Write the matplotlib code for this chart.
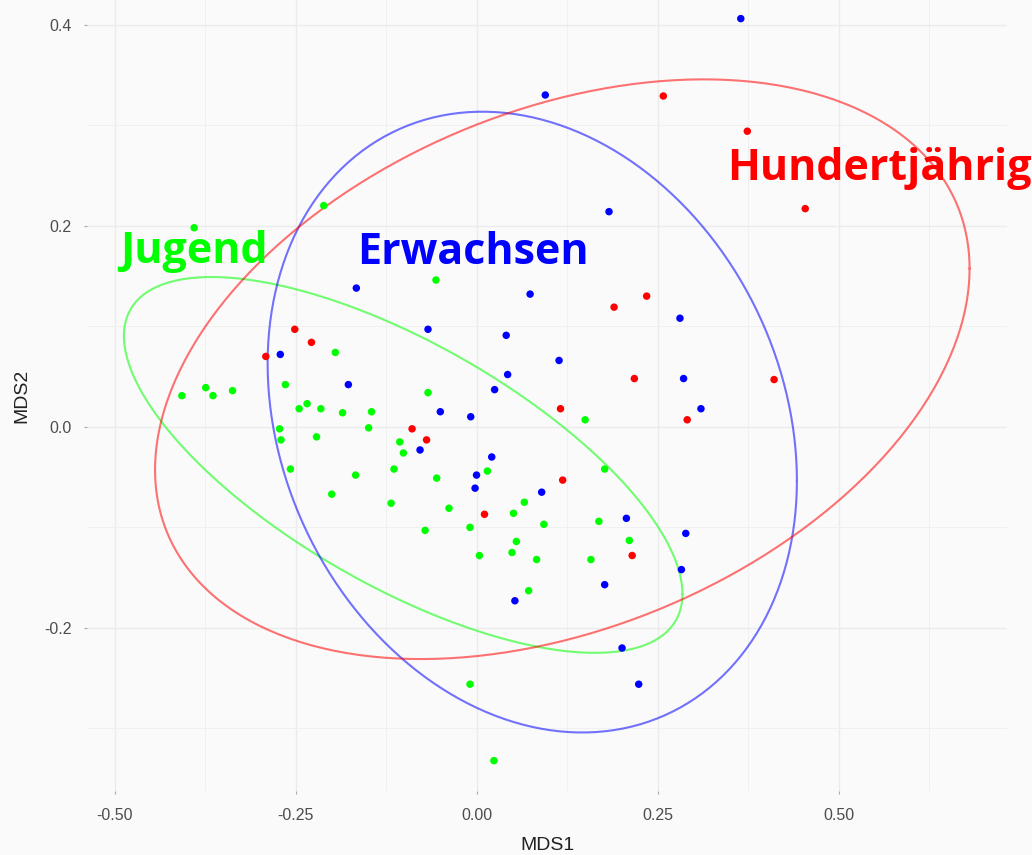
import numpy as np
import matplotlib
matplotlib.use("Agg")
import matplotlib.pyplot as plt

# ---------------- data ----------------
jugend_x = [-0.211, -0.390, -0.195, -0.407, -0.374, -0.364, -0.337, -0.264, -0.245, -0.234,
            -0.215, -0.185, -0.272, -0.270, -0.221, -0.257, -0.167, -0.200, -0.067, -0.145,
            -0.149, -0.106, -0.101, 0.015, -0.055, -0.114, -0.038, 0.066, 0.051, -0.071,
            -0.009, 0.093, 0.169, 0.211, 0.055, 0.004, 0.049, 0.083, 0.158, 0.072,
            -0.009, 0.024, 0.150, 0.177, -0.056, -0.118]
jugend_y = [0.220, 0.198, 0.074, 0.031, 0.039, 0.031, 0.036, 0.042, 0.018, 0.023,
            0.018, 0.014, -0.002, -0.013, -0.010, -0.042, -0.048, -0.067, 0.034, 0.015,
            -0.001, -0.015, -0.026, -0.044, -0.051, -0.042, -0.081, -0.075, -0.086, -0.103,
            -0.100, -0.097, -0.094, -0.113, -0.114, -0.128, -0.125, -0.132, -0.132, -0.163,
            -0.256, -0.332, 0.007, -0.042, 0.146, -0.076]

erw_x = [0.365, 0.095, 0.183, -0.166, 0.074, 0.281, -0.067, 0.041, -0.271, 0.114,
         0.043, 0.286, -0.177, 0.025, 0.310, -0.050, -0.008, -0.078, 0.021, 0.000,
         -0.002, 0.090, 0.207, 0.289, 0.283, 0.177, 0.053, 0.201, 0.224]
erw_y = [0.406, 0.330, 0.214, 0.138, 0.132, 0.108, 0.097, 0.091, 0.072, 0.066,
         0.052, 0.048, 0.042, 0.037, 0.018, 0.015, 0.010, -0.023, -0.030, -0.048,
         -0.061, -0.065, -0.091, -0.106, -0.142, -0.157, -0.173, -0.220, -0.256]

hund_x = [0.258, 0.374, 0.454, 0.235, 0.190, -0.251, -0.228, -0.291, 0.218, 0.411,
          0.116, 0.291, -0.089, -0.069, 0.119, 0.011, 0.215]
hund_y = [0.329, 0.294, 0.217, 0.130, 0.119, 0.097, 0.084, 0.070, 0.048, 0.047,
          0.018, 0.007, -0.002, -0.013, -0.053, -0.087, -0.128]

groups = ["Jugend", "Erwachsen", "Hundertjährig"]
colors = ["#00FF00", "#0000FF", "#FF0000"]

# ellipse parameters per group (centre and shape matrix)
ell_cx = [-0.1013, 0.0770, 0.1185]
ell_cy = [-0.0379, 0.0047, 0.0573]
ell_sxx = [0.1488, 0.1336, 0.3164]
ell_syy = [0.03493, 0.0953, 0.0831]
ell_sxy = [-0.0495, -0.0213, 0.0563]

# group label positions
label_x = [-0.390, -0.005, 0.556]
label_y = [0.163, 0.162, 0.2454]

x_ticks = [-0.50, -0.25, 0.00, 0.25, 0.50]
x_ticklabels = ["-0.50", "-0.25", "0.00", "0.25", "0.50"]
y_ticks = [-0.2, 0.0, 0.2, 0.4]
y_ticklabels = ["-0.2", "0.0", "0.2", "0.4"]

# ---------------- figure ----------------
W, H = 1032, 855
bg = "#FAFAFA"
fig = plt.figure(figsize=(W / 100, H / 100), dpi=100, facecolor=bg)
ax = fig.add_axes([87 / W, (H - 791) / H, 920 / W, 791 / H], facecolor=bg)

ax.set_xlim(-0.538, 0.7327)
ax.set_ylim(-0.3622, 0.4245)

for s in ax.spines.values():
    s.set_visible(False)

ax.set_xticks(x_ticks)
ax.set_xticklabels(x_ticklabels)
ax.set_yticks(y_ticks)
ax.set_yticklabels(y_ticklabels)
ax.set_xticks([-0.375, -0.125, 0.125, 0.375, 0.625], minor=True)
ax.set_yticks([-0.3, -0.1, 0.1, 0.3], minor=True)
ax.grid(which="major", color="#EBEBEB", linewidth=1.0)
ax.grid(which="minor", color="#F0F0F0", linewidth=0.7)
ax.set_axisbelow(True)
ax.tick_params(which="major", length=2.5, width=0.8, color="#AAAAAA",
               labelsize=11.5, labelcolor="#4D4D4D")
ax.tick_params(axis="x", which="major", pad=9.5)
ax.tick_params(axis="y", which="major", pad=8.3)
ax.tick_params(which="minor", length=0)
for lab in ax.get_xticklabels() + ax.get_yticklabels():
    lab.set_fontfamily("Liberation Sans")

ax.set_xlabel("MDS1", fontsize=14, color="#222222", family="Liberation Sans", labelpad=10)
ax.set_ylabel("MDS2", fontsize=14, color="#222222", family="Liberation Sans", labelpad=10)

xs = [jugend_x, erw_x, hund_x]
ys = [jugend_y, erw_y, hund_y]

t = np.linspace(0, 2 * np.pi, 361)
circle = np.vstack([np.cos(t), np.sin(t)])
for i in range(3):
    M = np.array([[ell_sxx[i], ell_sxy[i]], [ell_sxy[i], ell_syy[i]]])
    L = np.linalg.cholesky(M)
    pts = L @ circle
    ax.plot(ell_cx[i] + pts[0], ell_cy[i] + pts[1], color=colors[i], alpha=0.55,
            linewidth=1.5, zorder=2)

for i in range(3):
    ax.scatter(xs[i], ys[i], s=29, color=colors[i], edgecolors="none", zorder=3)

for i in range(3):
    ax.text(label_x[i], label_y[i], groups[i], color=colors[i], fontsize=31,
            fontweight="bold", family=["Open Sans", "DejaVu Sans"],
            ha="center", va="baseline", zorder=4, clip_on=False)

fig.savefig("out.png", dpi=100, facecolor=bg)
